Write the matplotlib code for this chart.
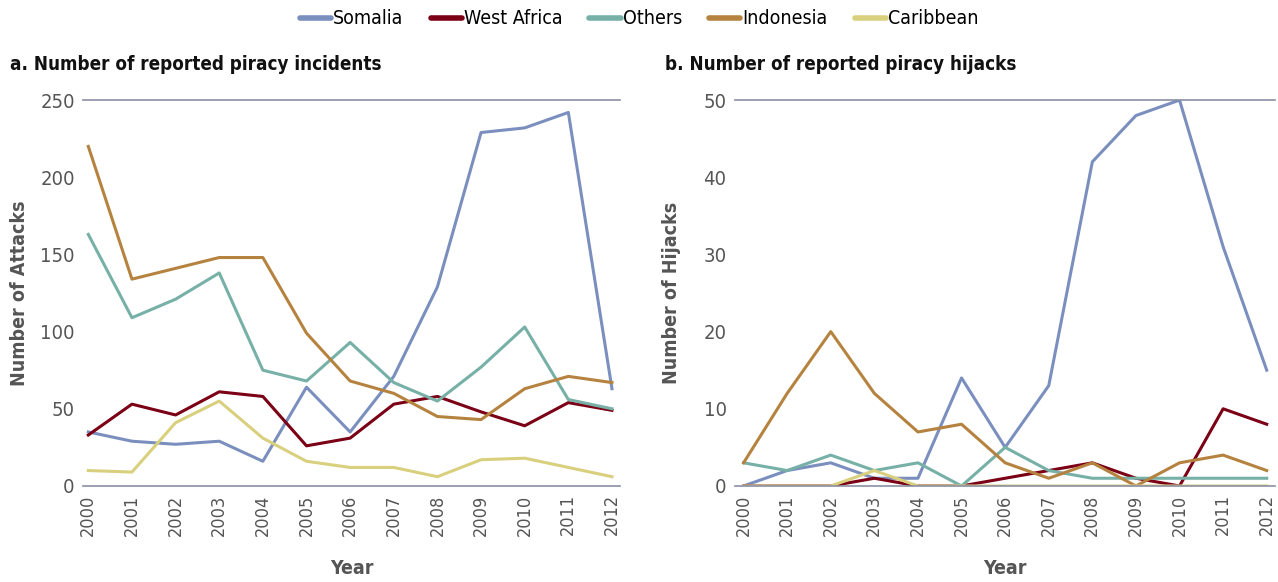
import numpy as np
import matplotlib.pyplot as plt
from matplotlib.lines import Line2D

plt.rcParams['font.family'] = ['Liberation Sans Narrow', 'DejaVu Sans']
plt.rcParams['font.stretch'] = 'condensed'

years = np.arange(2000, 2013)
series = ["Somalia", "West Africa", "Others", "Indonesia", "Caribbean"]
colors = ["#7b8fbf", "#7b0016", "#76b0a6", "#b5833f", "#d9d07e"]

# --- a. reported piracy incidents ---
attacks_somalia = [35, 29, 27, 29, 16, 64, 35, 71, 129, 229, 232, 242, 63]
attacks_west_africa = [33, 53, 46, 61, 58, 26, 31, 53, 58, 48, 39, 54, 49]
attacks_others = [163, 109, 121, 138, 75, 68, 93, 67, 55, 77, 103, 56, 50]
attacks_indonesia = [220, 134, 141, 148, 148, 99, 68, 60, 45, 43, 63, 71, 67]
attacks_caribbean = [10, 9, 41, 55, 31, 16, 12, 12, 6, 17, 18, 12, 6]

# --- b. reported piracy hijacks ---
hijacks_somalia = [0, 2, 3, 1, 1, 14, 5, 13, 42, 48, 50, 31, 15]
hijacks_west_africa = [0, 0, 0, 1, 0, 0, 1, 2, 3, 1, 0, 10, 8]
hijacks_others = [3, 2, 4, 2, 3, 0, 5, 2, 1, 1, 1, 1, 1]
hijacks_indonesia = [3, 12, 20, 12, 7, 8, 3, 1, 3, 0, 3, 4, 2]
hijacks_caribbean = [0, 0, 0, 2, 0, 0, 0, 0, 0, 0, 0, 0, 0]

attacks = [attacks_somalia, attacks_west_africa, attacks_others, attacks_indonesia, attacks_caribbean]
hijacks = [hijacks_somalia, hijacks_west_africa, hijacks_others, hijacks_indonesia, hijacks_caribbean]

fig = plt.figure(figsize=(12.78, 5.82), dpi=100)
ax1 = fig.add_axes([0.065, 0.165, 0.42, 0.663])
ax2 = fig.add_axes([0.575, 0.165, 0.423, 0.663])


def style_axis(ax, data, ymax, yticks, ylabel, title, title_x, ylabel_x):
    for vals, c in zip(data, colors):
        ax.plot(years, vals, color=c, linewidth=2.2)
    ax.set_xlim(1999.88, 2012.18)
    ax.set_ylim(0, ymax)
    ax.axhline(ymax, color="#8a8fa3", linewidth=1.2, clip_on=False)
    for s in ["top", "right", "left"]:
        ax.spines[s].set_visible(False)
    ax.spines["bottom"].set_color("#8a8fa3")
    ax.spines["bottom"].set_linewidth(1.2)
    ax.set_xticks(years)
    ax.set_xticklabels([str(y) for y in years], rotation=90, fontsize=13, color="#555555")
    ax.set_yticks(yticks)
    ax.set_yticklabels([str(v) for v in yticks], fontsize=14.5, color="#555555")
    ax.tick_params(axis="both", length=0, pad=6)
    ax.set_xlabel("Year", fontsize=14, fontweight="bold", color="#555555")
    ax.xaxis.set_label_coords(0.5, -0.19)
    ax.set_ylabel(ylabel, fontsize=14, fontweight="bold", color="#555555")
    ax.yaxis.set_label_coords(ylabel_x, 0.5)
    fig.text(title_x, 1 - 65 / 582, title, fontsize=13.5, fontweight="bold",
             color="#111111", va="center")


style_axis(ax1, attacks, 250, [0, 50, 100, 150, 200, 250], "Number of Attacks",
           "a. Number of reported piracy incidents", 10 / 1278, -0.10)
style_axis(ax2, hijacks, 50, [0, 10, 20, 30, 40, 50], "Number of Hijacks",
           "b. Number of reported piracy hijacks", 665 / 1278, -0.10)
ax2.set_xlim(1999.8, 2012.2)

handles = [Line2D([0], [0], color=c, linewidth=4, solid_capstyle="round") for c in colors]
fig.legend(handles, series, loc="center", bbox_to_anchor=(0.5, 1 - 19 / 582), ncol=5,
           frameon=False, fontsize=14, handlelength=1.6, handletextpad=0.1, columnspacing=1.4)

fig.savefig("out.png", dpi=100)
